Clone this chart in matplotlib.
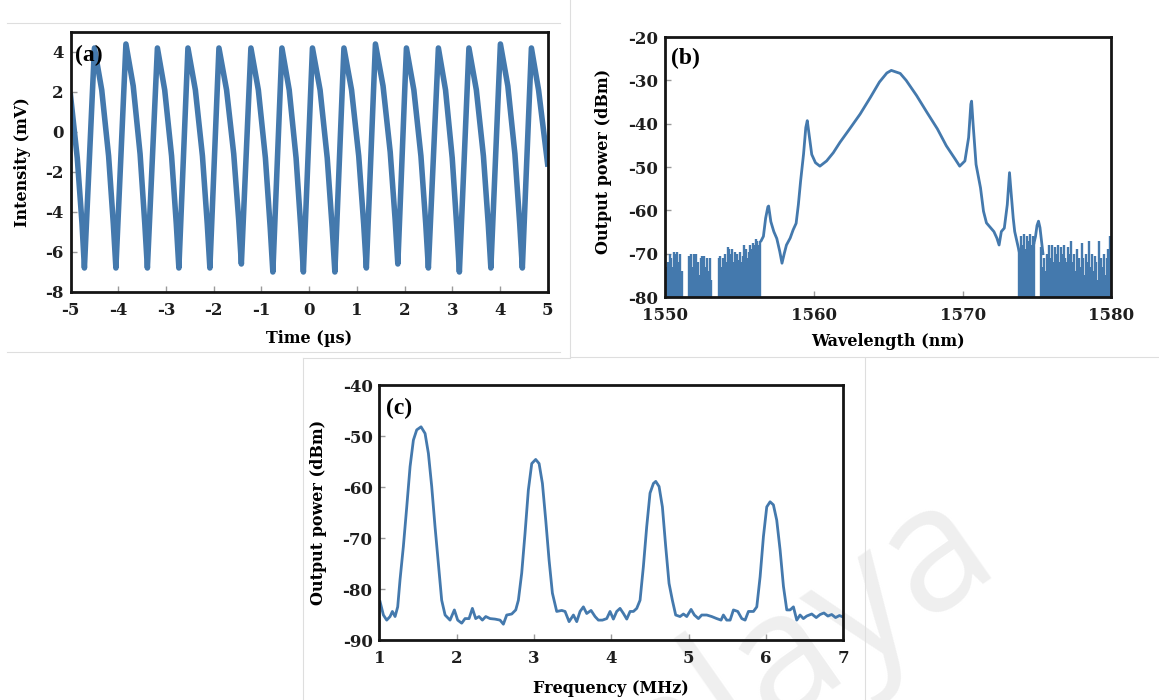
import numpy as np
import matplotlib
matplotlib.use('Agg')
import matplotlib.pyplot as plt
from matplotlib.lines import Line2D

plt.rcParams['font.family'] = ['DejaVu Serif']
plt.rcParams['font.weight'] = 'bold'
plt.rcParams['axes.labelweight'] = 'bold'
plt.rcParams['axes.unicode_minus'] = False

LINE = '#4479ad'

time_a = [-5.0, -4.86, -4.76,
          -4.71, -4.605, -4.50, -4.347, -4.203, -4.104,
          -4.05, -3.945, -3.84, -3.687, -3.543, -3.444,
          -3.39, -3.285, -3.18, -3.027, -2.883, -2.784,
          -2.73, -2.635, -2.54, -2.384, -2.236, -2.135,
          -2.08, -1.985, -1.89, -1.73, -1.58, -1.476,
          -1.42, -1.32, -1.22, -1.064, -0.916, -0.815,
          -0.76, -0.665, -0.57, -0.417, -0.273, -0.174,
          -0.12, -0.025, 0.07, 0.23, 0.38, 0.484,
          0.54, 0.635, 0.73, 0.89, 1.04, 1.144,
          1.20, 1.295, 1.39, 1.55, 1.70, 1.804,
          1.86, 1.95, 2.04, 2.196, 2.344, 2.445,
          2.50, 2.605, 2.71, 2.86, 3.0, 3.097,
          3.15, 3.25, 3.35, 3.506, 3.654, 3.755,
          3.81, 3.91, 4.01, 4.166, 4.314, 4.415,
          4.47, 4.565, 4.66, 4.81, 5.0]
intensity_a = [1.8, -1.3, -4.6,
               -6.8, -1.3, 4.2, 2.1, -1.2, -4.6,
               -6.8, -1.2, 4.4, 2.3, -1.1, -4.6,
               -6.8, -1.3, 4.2, 2.1, -1.2, -4.6,
               -6.8, -1.3, 4.2, 2.1, -1.2, -4.6,
               -6.8, -1.3, 4.2, 2.1, -1.1, -4.4,
               -6.6, -1.2, 4.2, 2.1, -1.3, -4.8,
               -7.0, -1.4, 4.2, 2.1, -1.3, -4.8,
               -7.0, -1.4, 4.2, 2.1, -1.3, -4.8,
               -7.0, -1.4, 4.2, 2.1, -1.2, -4.6,
               -6.8, -1.2, 4.4, 2.3, -1.0, -4.4,
               -6.6, -1.2, 4.2, 2.1, -1.2, -4.6,
               -6.8, -1.3, 4.2, 2.1, -1.3, -4.8,
               -7.0, -1.4, 4.2, 2.1, -1.2, -4.6,
               -6.8, -1.2, 4.4, 2.3, -1.1, -4.6,
               -6.8, -1.3, 4.2, 2.1, -1.6]

# ---- (b) optical spectrum
wl_b = [1556.45, 1556.6, 1556.75, 1556.9, 1556.95, 1557.1, 1557.3, 1557.5, 1557.7,
        1557.85, 1558.0, 1558.15, 1558.4, 1558.6, 1558.8, 1558.95, 1559.1, 1559.3,
        1559.45, 1559.55, 1559.7, 1559.85, 1560.1, 1560.4, 1560.85, 1561.3, 1561.75,
        1562.4, 1563.1, 1563.8, 1564.4, 1564.9, 1565.2, 1565.8, 1566.2, 1566.9,
        1567.6, 1568.3, 1568.9, 1569.5, 1569.8, 1570.15, 1570.4, 1570.55, 1570.6,
        1570.7, 1570.9, 1571.2, 1571.4, 1571.6, 1571.9, 1572.1, 1572.3, 1572.45,
        1572.6, 1572.8, 1573.0, 1573.15, 1573.25, 1573.4, 1573.5, 1573.65, 1573.8]
power_b = [-67, -66, -61.8, -59.2, -59.0, -62.6, -64.9, -66.5, -69.5,
           -72.2, -70, -68, -66.4, -64.5, -63, -58.7, -53.3, -47,
           -40.9, -39.3, -43.2, -47.1, -49, -49.8, -48.6, -46.7, -44.3,
           -41.2, -37.8, -33.9, -30.4, -28.3, -27.7, -28.4, -30, -33.5,
           -37.4, -41.2, -45.1, -48.2, -49.8, -48.6, -43.2, -35.5, -34.8,
           -40, -49.4, -54.8, -60.2, -62.9, -64.1, -64.9, -66.4, -68,
           -64.9, -64.1, -58.7, -51.3, -55.6, -61.8, -64.9, -67.2, -69.5]
bump_wl = [1574.8, 1574.9, 1575.0, 1575.1, 1575.2, 1575.3, 1575.4]
bump_pw = [-67.5, -66, -63.5, -62.5, -64, -67, -70]

# noise floor spikes, sampled every 0.1 nm
noise_step = 0.1
noise_left_start = 1550.0
noise_left = [-75, -73, -72, -70, -71, -73, -69.5, -70, -69.5, -72,
              -70, -74, -80, -80, -80, -80, -70.5, -70, -73, -70,
              -74, -70, -72, -75, -71, -70.5, -70.5, -73, -71, -74,
              -71, -76, -80, -80, -80, -80, -71, -70.5, -73, -71,
              -70, -72, -68.5, -69, -70, -69, -72, -69.5, -70, -71.5,
              -69.5, -72, -70.5, -68, -69, -71, -69.5, -68, -69, -67.5,
              -68, -66.5, -67, -68, -67]
noise_right_start = 1573.8
noise_right = [-69, -66, -68, -65.5, -69, -66, -67, -65.5, -68, -66,
               -67.5, -80, -80, -80, -80, -68.5, -73, -71, -74, -70,
               -68, -71, -68, -72, -68.5, -70, -68, -72, -68.5, -70,
               -68, -71, -72, -68.5, -70, -67, -72, -70, -74, -69,
               -71, -73, -67.5, -71, -75, -70, -72, -67, -73, -70,
               -74, -70.5, -72, -76, -67, -71, -73, -70, -75, -71,
               -69, -66, -68]

# ---- (c) RF spectrum
freq_c = [1.008, 1.051, 1.094, 1.137, 1.167, 1.202, 1.236, 1.266, 1.309, 1.353,
          1.396, 1.439, 1.482, 1.538, 1.590, 1.633, 1.676, 1.719, 1.762, 1.805,
          1.849, 1.913, 1.969, 2.012, 2.064, 2.107, 2.159, 2.202, 2.245, 2.288,
          2.331, 2.375, 2.431, 2.495, 2.560, 2.603, 2.646, 2.711, 2.763, 2.797,
          2.840, 2.883, 2.926, 2.970, 3.021, 3.065, 3.108, 3.151, 3.194, 3.237,
          3.293, 3.358, 3.401, 3.453, 3.509, 3.552, 3.595, 3.638, 3.681, 3.737,
          3.789, 3.832, 3.884, 3.940, 3.983, 4.026, 4.069, 4.112, 4.156, 4.199,
          4.242, 4.285, 4.328, 4.371, 4.414, 4.457, 4.500, 4.544, 4.574, 4.617,
          4.660, 4.703, 4.746, 4.789, 4.832, 4.888, 4.932, 4.975, 5.031, 5.074,
          5.126, 5.169, 5.234, 5.298, 5.363, 5.419, 5.449, 5.492, 5.536, 5.579,
          5.635, 5.687, 5.730, 5.773, 5.838, 5.881, 5.924, 5.967, 6.010, 6.053,
          6.096, 6.139, 6.183, 6.226, 6.269, 6.312, 6.355, 6.398, 6.441, 6.484,
          6.527, 6.592, 6.65, 6.7, 6.75, 6.8, 6.85, 6.9, 6.95, 7.0]
power_c = [-82.5, -85.1, -86.1, -85.4, -84.4, -85.4, -83.5, -78.2, -71.7, -63.9,
           -56.0, -50.8, -48.8, -48.2, -49.5, -53.4, -59.9, -67.8, -75.0, -82.2,
           -85.1, -86.1, -84.1, -86.1, -86.7, -85.8, -85.8, -83.8, -85.8, -85.4,
           -86.1, -85.4, -85.8, -85.9, -86.1, -86.9, -85.1, -84.9, -84.1, -82.2,
           -76.9, -69.1, -60.6, -55.4, -54.6, -55.4, -59.3, -66.5, -74.3, -80.8,
           -84.4, -84.2, -84.4, -86.4, -85.1, -86.4, -84.4, -83.5, -84.8, -84.2,
           -85.4, -86.1, -86.1, -85.8, -84.4, -85.9, -84.4, -83.8, -84.8, -85.9,
           -84.4, -84.4, -83.8, -82.2, -75.6, -67.8, -61.2, -59.3, -58.9, -59.9,
           -63.9, -71.7, -78.9, -82.2, -85.1, -85.4, -84.9, -85.4, -84.0, -85.1,
           -85.8, -85.1, -85.1, -85.4, -85.8, -86.1, -85.1, -86.1, -86.1, -84.1,
           -84.4, -85.8, -86.1, -84.4, -84.4, -83.5, -77.6, -69.7, -63.9, -62.9,
           -63.5, -66.5, -72.4, -79.5, -84.1, -84.1, -83.5, -86.1, -85.1, -85.8,
           -85.3, -84.9, -85.6, -85.0, -84.7, -85.3, -85.0, -85.6, -85.2, -85.5]


def style(ax, xlim, ylim, xticks, yticks):
    ax.set_facecolor('none')
    ax.set_zorder(2)
    ax.set_xlim(*xlim)
    ax.set_ylim(*ylim)
    ax.set_xticks(xticks)
    ax.set_yticks(yticks)
    ax.tick_params(direction='in', length=4, width=1, color='#9a9a9a',
                   labelsize=12, labelcolor='#1e1e1e')
    ax.tick_params(axis='x', pad=7)
    ax.tick_params(axis='y', pad=5)
    for s in ax.spines.values():
        s.set_linewidth(2)
        s.set_color('#151515')


fig = plt.figure(figsize=(11.59, 7), dpi=100)

# faint screenshot frames (pixel coords from the top-left)
W, H = 1159, 700
frames = [((7, 560), (23, 23)), ((7, 560), (352, 352)),
          ((570, 570), (0, 356)), ((570, 1159), (357, 357)),
          ((303, 570), (358, 358)), ((303, 303), (358, 700)), ((865, 865), (358, 700))]
for xs, ys in frames:
    fig.add_artist(Line2D([x / W for x in xs], [1 - y / H for y in ys],
                          color='#dedede', lw=0.8, zorder=0))

# faint watermark behind the plots
fig.text(0.8628, 0.20, 'Malaya', rotation=35, rotation_mode='anchor',
         ha='right', va='baseline', fontsize=125, color='#efefef',
         family='Open Sans', fontweight='normal', zorder=-1)

# (a)
ax_a = fig.add_axes([0.0609, 0.5829, 0.4116, 0.3714])
ax_a.plot(time_a, intensity_a, color=LINE, lw=4, solid_joinstyle='round')
style(ax_a, (-5, 5), (-8, 5), range(-5, 6), range(-8, 5, 2))
ax_a.set_xlabel('Time (µs)', fontsize=11.5)
ax_a.set_ylabel('Intensity (mV)', fontsize=11.5)
ax_a.xaxis.set_label_coords(0.5, -0.146)
ax_a.yaxis.set_label_coords(-0.083, 0.5)
ax_a.text(0.01, 0.95, '(a)', transform=ax_a.transAxes, fontsize=17,
          va='top', ha='left', family='Liberation Serif')

# (b)
ax_b = fig.add_axes([0.5740, 0.5757, 0.3849, 0.3714])
x_left = [round(noise_left_start + i * noise_step, 2) for i in range(len(noise_left))]
x_right = [round(noise_right_start + i * noise_step, 2) for i in range(len(noise_right))]
ax_b.vlines(x_left, -80, noise_left, color=LINE, lw=1.7)
ax_b.vlines(x_right, -80, noise_right, color=LINE, lw=1.7)
ax_b.plot(wl_b, power_b, color=LINE, lw=2)
ax_b.plot(bump_wl, bump_pw, color=LINE, lw=2)
style(ax_b, (1550, 1580), (-80, -20), range(1550, 1581, 10), range(-80, -19, 10))
ax_b.set_xlabel('Wavelength (nm)', fontsize=11.5)
ax_b.set_ylabel('Output power (dBm)', fontsize=11.5)
ax_b.xaxis.set_label_coords(0.5, -0.138)
ax_b.yaxis.set_label_coords(-0.119, 0.52)
ax_b.text(0.012, 0.96, '(b)', transform=ax_b.transAxes, fontsize=17,
          va='top', ha='left', family='Liberation Serif')

# (c)
ax_c = fig.add_axes([0.3274, 0.0857, 0.4002, 0.3643])
ax_c.plot(freq_c, power_c, color=LINE, lw=2)
style(ax_c, (1, 7), (-90, -40), range(1, 8), range(-90, -39, 10))
ax_c.set_xlabel('Frequency (MHz)', fontsize=11.5)
ax_c.set_ylabel('Output power (dBm)', fontsize=11.5)
ax_c.xaxis.set_label_coords(0.5, -0.157)
ax_c.yaxis.set_label_coords(-0.113, 0.5)
ax_c.text(0.015, 0.95, '(c)', transform=ax_c.transAxes, fontsize=17,
          va='top', ha='left', family='Liberation Serif')

fig.savefig('out.png', dpi=100)
